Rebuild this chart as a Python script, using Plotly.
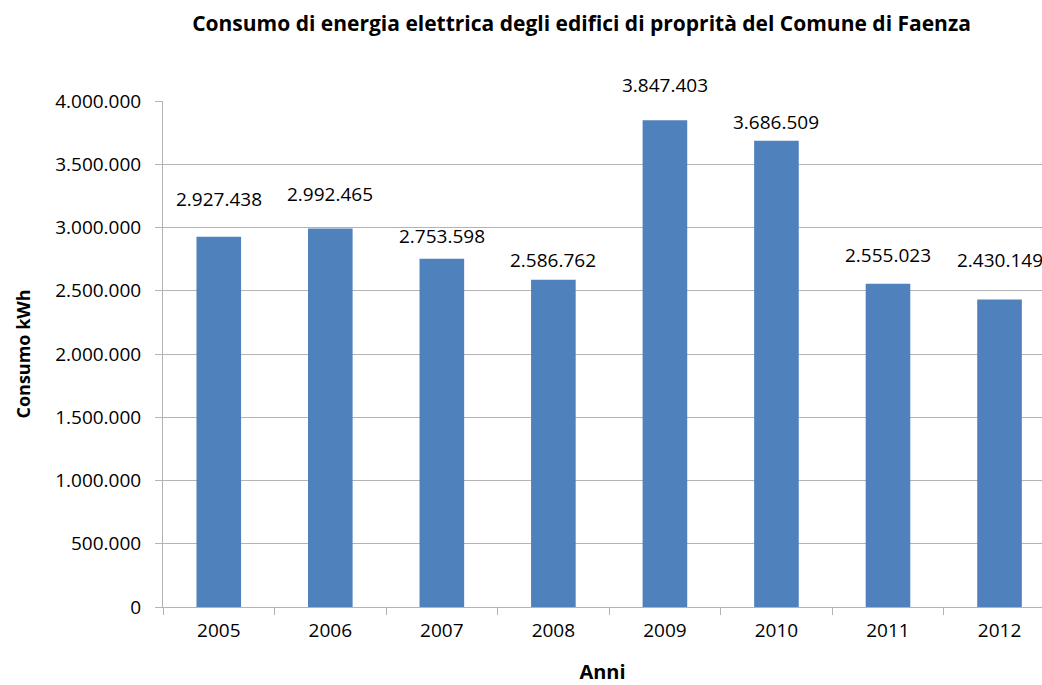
import plotly.graph_objects as go

# Annual electricity consumption of municipal buildings (kWh)
anni = ["2005", "2006", "2007", "2008", "2009", "2010", "2011", "2012"]
consumo_kwh = [2927438, 2992465, 2753598, 2586762, 3847403, 3686509, 2555023, 2430149]

y_ticks = [0, 500000, 1000000, 1500000, 2000000, 2500000, 3000000, 3500000, 4000000]

# vertical offset (px) of each value label above its bar top
label_offsets = [38, 34, 23, 20, 35, 19, 29, 40]

BAR_COLOR = "#4f81bd"
GRID = "#b3b3b3"
FONT = "Open Sans"


def fmt_it(v):
    return f"{v:,}".replace(",", ".")


fig = go.Figure(
    go.Bar(
        x=anni,
        y=consumo_kwh,
        width=0.4,
        marker=dict(color=BAR_COLOR, line=dict(width=0)),
        hoverinfo="skip",
    )
)

# value labels, positioned by category index
for i, (val, off) in enumerate(zip(consumo_kwh, label_offsets)):
    fig.add_annotation(
        x=i, y=val, xref="x", yref="y", text=fmt_it(val), showarrow=False,
        yanchor="middle", yshift=off,
        font=dict(family=FONT, size=19, color="#000000"),
    )

plot_left = 162.5
cat_px = 111.6
fig_w = 1042

fig.update_layout(
    width=fig_w,
    height=685,
    margin=dict(l=plot_left, r=0, t=101, b=76, pad=0),
    paper_bgcolor="white",
    plot_bgcolor="white",
    separators=",.",
    showlegend=False,
    title=dict(
        text="<b>Consumo di energia elettrica degli edifici di proprità del Comune di Faenza</b>",
        x=581.5 / fig_w, xanchor="center",
        y=1 - 24 / 685, yanchor="middle",
        font=dict(family=FONT, size=21, color="#000000"),
    ),
    xaxis=dict(
        type="category",
        range=[-0.5, -0.5 + (fig_w - plot_left) / cat_px],
        showline=True, linecolor=GRID, linewidth=1,
        ticks="outside", tickson="boundaries", ticklen=7, tickcolor=GRID,
        showgrid=False,
        tickfont=dict(family=FONT, size=19, color="#000000"),
        ticklabelstandoff=6,
        title=dict(text="<b>Anni</b>", standoff=28,
                   font=dict(family=FONT, size=20, color="#000000")),
    ),
    yaxis=dict(
        range=[0, 4000000],
        tickvals=y_ticks,
        ticktext=[fmt_it(v) for v in y_ticks],
        showline=True, linecolor=GRID, linewidth=1,
        ticks="outside", ticklen=7, tickcolor=GRID,
        showgrid=True, gridcolor=GRID, gridwidth=1,
        zeroline=False,
        tickfont=dict(family=FONT, size=19, color="#000000"),
        ticklabelstandoff=10,
        title=dict(text="<b>Consumo kWh</b>", standoff=19,
                   font=dict(family=FONT, size=18, color="#000000")),
    ),
)

fig.write_html("out.html")
